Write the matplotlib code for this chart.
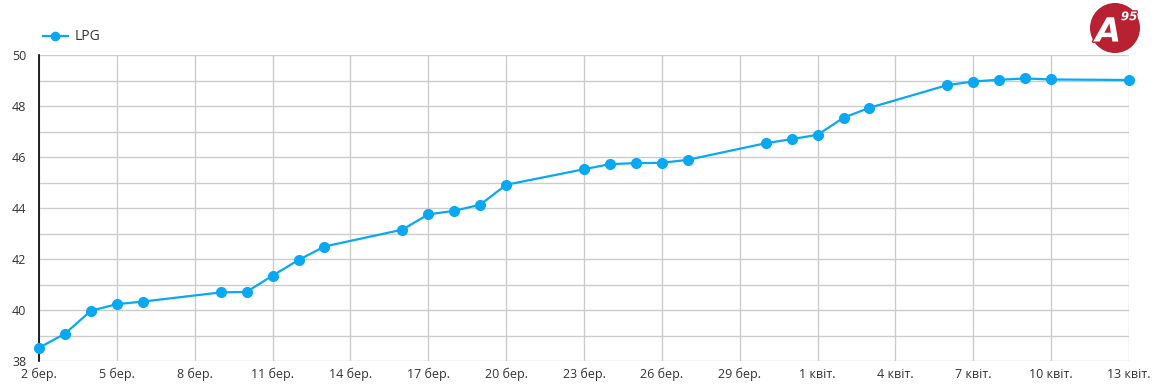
import matplotlib.pyplot as plt
import matplotlib.patheffects as pe
from matplotlib.patches import Circle
import numpy as np

plt.rcParams['font.family'] = ['Open Sans', 'DejaVu Sans']

# LPG price, UAH/l
dates = np.array([
    '2022-03-02', '2022-03-03', '2022-03-04', '2022-03-05', '2022-03-06',
    '2022-03-09', '2022-03-10', '2022-03-11', '2022-03-12', '2022-03-13',
    '2022-03-16', '2022-03-17', '2022-03-18', '2022-03-19', '2022-03-20',
    '2022-03-23', '2022-03-24', '2022-03-25', '2022-03-26', '2022-03-27',
    '2022-03-30', '2022-03-31', '2022-04-01', '2022-04-02', '2022-04-03',
    '2022-04-06', '2022-04-07', '2022-04-08', '2022-04-09', '2022-04-10',
    '2022-04-13'], dtype='datetime64[D]')
lpg = [38.52, 39.07, 39.97, 40.23, 40.33,
       40.69, 40.71, 41.35, 41.96, 42.49,
       43.15, 43.75, 43.89, 44.13, 44.91,
       45.52, 45.72, 45.76, 45.77, 45.89,
       46.54, 46.70, 46.87, 47.54, 47.93,
       48.82, 48.96, 49.03, 49.08, 49.04,
       49.02]
months = {3: 'бер.', 4: 'квіт.'}

blue = '#0aa8f2'
txt = '#333333'
red = '#b82132'

fig = plt.figure(figsize=(11.6, 3.87), dpi=100)
ax = fig.add_axes([39 / 1160, 1 - 361 / 387, 1090 / 1160, 306 / 387])

ax.plot(dates, lpg, color=blue, lw=1.6, marker='o', ms=7, label='LPG', zorder=3, clip_on=False)

ax.set_xlim(np.datetime64('2022-03-02'), np.datetime64('2022-04-13'))
ax.set_ylim(38, 50)
ticks = np.arange(np.datetime64('2022-03-02'), np.datetime64('2022-04-14'), 3)
ax.set_xticks(ticks)
ax.set_xticklabels([f"{t.astype(object).day} {months[t.astype(object).month]}" for t in ticks])
ax.set_yticks(np.arange(38, 51, 2))
ax.set_yticks(np.arange(39, 50, 2), minor=True)
ax.grid(True, which='both', color='#cccccc', lw=1)
ax.tick_params(which='both', length=0, labelsize=9, colors=txt, pad=5)
ax.tick_params(axis='y', pad=9)
for s in ['top', 'right', 'bottom']:
    ax.spines[s].set_visible(False)
ax.spines['left'].set_color('black')
ax.spines['left'].set_linewidth(1.2)

ax.legend(loc='upper left', bbox_to_anchor=(30 / 1160, 1 - 17 / 387), bbox_transform=fig.transFigure,
          frameon=False, fontsize=10, handlelength=1.8, handletextpad=0.5, labelcolor=txt,
          markerscale=0.85)

# logo
lax = fig.add_axes([1088 / 1160, 1 - 55 / 387, 54 / 1160, 54 / 387])
lax.set_xlim(-1, 1)
lax.set_ylim(-1, 1)
lax.set_aspect('equal')
lax.axis('off')
lax.add_patch(Circle((0, 0), 0.9, color=red))
stroke = [pe.withStroke(linewidth=2, foreground=red)]
lax.text(-0.25, -0.15, 'A', color='white', fontsize=24, fontweight='heavy', style='italic',
         ha='center', va='center', family='DejaVu Sans', path_effects=stroke)
lax.text(0.52, 0.42, '95', color='white', fontsize=8.5, fontweight='heavy', style='italic',
         ha='center', va='center', family='DejaVu Sans', path_effects=stroke)

fig.savefig('out.png', dpi=100)
